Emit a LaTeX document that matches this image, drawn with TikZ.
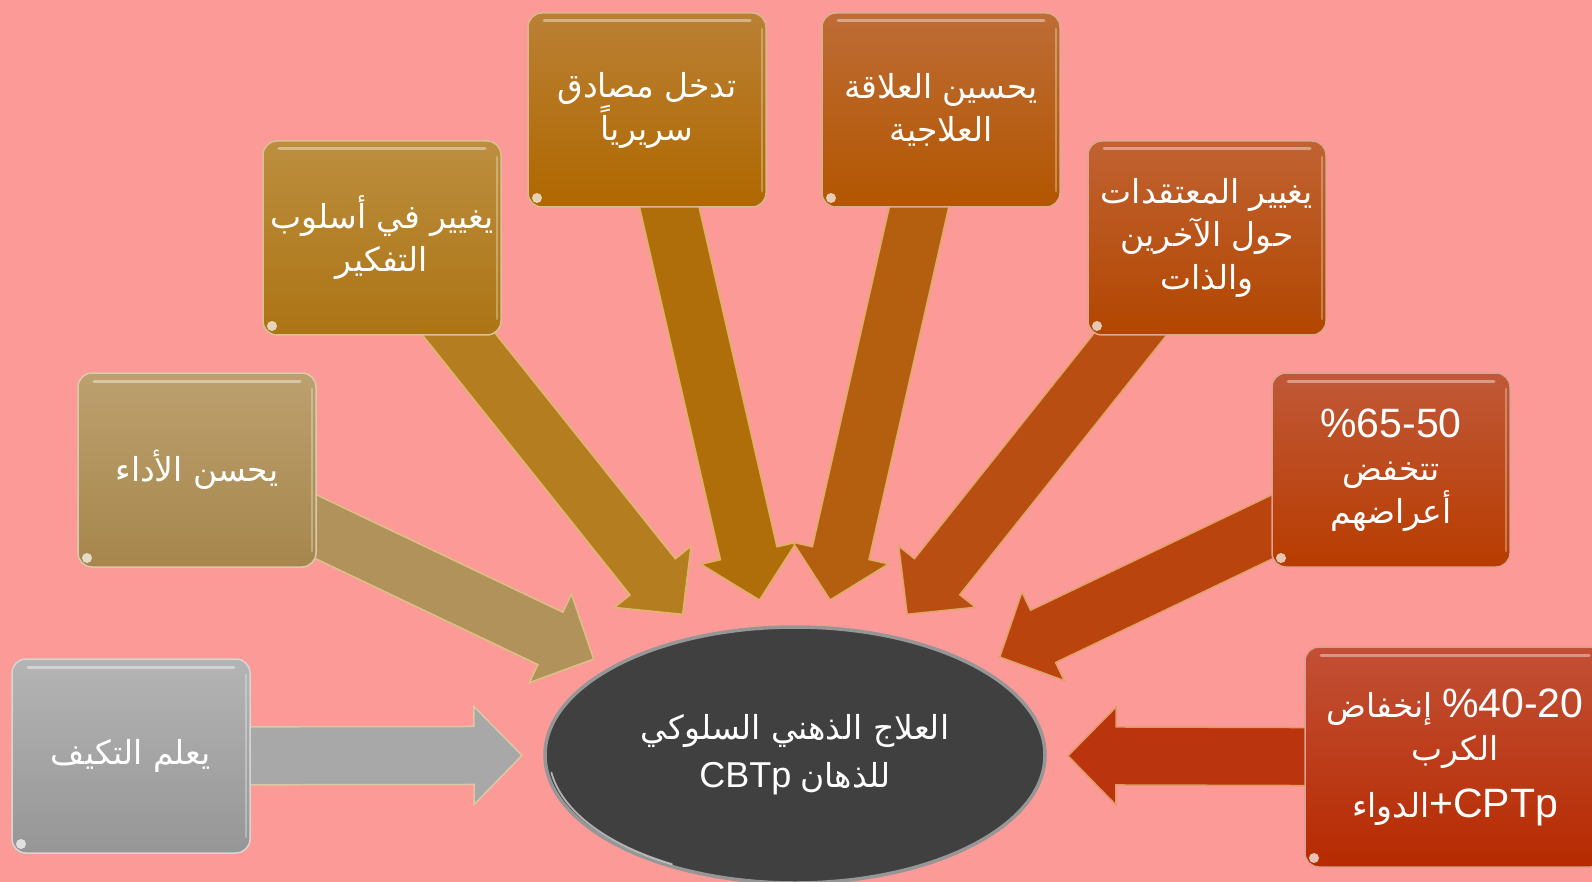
\documentclass[tikz,border=0pt]{standalone}
\usepackage{fontspec}
\setmainfont{Liberation Sans}
\newfontfamily\arfont[Script=Arabic]{DejaVu Sans}
\TeXXeTstate=1
\usetikzlibrary{calc,shapes.geometric}

\definecolor{bgpink}{RGB}{252,154,151}
\definecolor{g1t}{RGB}{180,180,180}\definecolor{g1b}{RGB}{150,150,150}\definecolor{g1a}{RGB}{168,168,168}
\definecolor{g2t}{RGB}{188,160,110}\definecolor{g2b}{RGB}{166,134,76}\definecolor{g2a}{RGB}{176,146,90}
\definecolor{g3t}{RGB}{188,142,62}\definecolor{g3b}{RGB}{172,116,20}\definecolor{g3a}{RGB}{180,126,32}
\definecolor{g4t}{RGB}{186,128,52}\definecolor{g4b}{RGB}{175,104,0}\definecolor{g4a}{RGB}{176,110,10}
\definecolor{g5t}{RGB}{190,108,54}\definecolor{g5b}{RGB}{178,86,0}\definecolor{g5a}{RGB}{180,94,16}
\definecolor{g6t}{RGB}{192,98,50}\definecolor{g6b}{RGB}{178,70,0}\definecolor{g6a}{RGB}{184,78,18}
\definecolor{g7t}{RGB}{192,88,56}\definecolor{g7b}{RGB}{184,60,0}\definecolor{g7a}{RGB}{186,68,14}
\definecolor{g8t}{RGB}{194,80,54}\definecolor{g8b}{RGB}{182,42,0}\definecolor{g8a}{RGB}{186,52,14}
\definecolor{core}{RGB}{64,64,64}
\definecolor{corerim}{RGB}{150,150,150}
\definecolor{glint}{RGB}{250,225,160}

\pgfdeclarelayer{backdrop}
\pgfdeclarelayer{arrowlayer}
\pgfsetlayers{backdrop,arrowlayer,main}

% block arrow from a box centre to a tip coordinate
\newcommand\flowarrow[3]{%
  \coordinate (fa-b) at ($(#2)!48pt!(#1.center)$);
  \filldraw[fill=#3, draw=#3!40!glint, line width=1.5pt, line join=miter]
    ($(#1.center)!29pt!90:(#2)$) -- ($(fa-b)!29pt!90:(#2)$) -- ($(fa-b)!49pt!90:(#2)$) -- (#2)
    -- ($(fa-b)!49pt!-90:(#2)$) -- ($(fa-b)!29pt!-90:(#2)$) -- ($(#1.center)!29pt!-90:(#2)$) -- cycle;}

\begin{document}
\begin{tikzpicture}[x=1pt,y=-1pt,
  card/.style={rounded corners=14pt, minimum width=238pt, minimum height=194pt,
    inner sep=0pt, text=white, align=center, line width=1.5pt,
    font=\fontsize{33}{43}\selectfont,
    path picture={
      \draw[white, opacity=.4, line width=3pt, line cap=round]
        ([xshift=16pt,yshift=-8pt]path picture bounding box.north west) --
        ([xshift=-16pt,yshift=-8pt]path picture bounding box.north east);
      \draw[white, opacity=.3, line width=2.5pt, line cap=round]
        ([xshift=-4pt,yshift=-16pt]path picture bounding box.north east) --
        ([xshift=-4pt,yshift=16pt]path picture bounding box.south east);
      \fill[white, opacity=.7]
        ([xshift=9pt,yshift=9pt]path picture bounding box.south west) circle (5pt);}},
]
\useasboundingbox (0,0) rectangle (1592,882);
\begin{pgfonlayer}{backdrop}
  \fill[bgpink] (0,0) rectangle (1592,882);
\end{pgfonlayer}

% the therapy in the middle
\node[ellipse, minimum width=500pt, minimum height=256pt, inner sep=0pt,
      fill=core, draw=corerim, line width=3.5pt, text=white, align=center,
      font=\fontsize{33}{48}\selectfont] (ell) at (795,755)
  {\arfont\beginR العلاج الذهني السلوكي\endR\\ {\fontsize{36}{48}\selectfont CBTp} {\arfont\beginR للذهان\endR}};
\draw[white, opacity=.6, line width=1.8pt, line cap=round]
  ($(ell.center)+(120:246 and 126)$) arc[start angle=120, end angle=172, x radius=246, y radius=126];

% the eight effects
\node[card, top color=g1t, bottom color=g1b, draw=g1t!55!white] (b1) at (131,756)
  {\arfont\beginR يعلم التكيف\endR};
\node[card, top color=g2t, bottom color=g2b, draw=g2t!55!white] (b2) at (197,470)
  {\arfont\beginR يحسن الأداء\endR};
\node[card, top color=g3t, bottom color=g3b, draw=g3t!55!white] (b3) at (382,238)
  {\arfont\beginR يغيير في أسلوب\endR\\ \arfont\beginR التفكير\endR};
\node[card, top color=g4t, bottom color=g4b, draw=g4t!55!white] (b4) at (647,110)
  {\arfont\beginR تدخل مصادق\endR\\ \arfont\beginR سريرياً\endR};
\node[card, top color=g5t, bottom color=g5b, draw=g5t!55!white] (b5) at (941,110)
  {\arfont\beginR يحسين العلاقة\endR\\ \arfont\beginR العلاجية\endR};
\node[card, top color=g6t, bottom color=g6b, draw=g6t!55!white] (b6) at (1207,238)
  {\arfont\beginR يغيير المعتقدات\endR\\ \arfont\beginR حول الآخرين\endR\\ \arfont\beginR والذات\endR};
\node[card, top color=g7t, bottom color=g7b, draw=g7t!55!white] (b7) at (1391,470)
  {{\fontsize{41}{43}\selectfont \%65-50}\\ \arfont\beginR تتخفض\endR\\ \arfont\beginR أعراضهم\endR};
\node[card, top color=g8t, bottom color=g8b, draw=g8t!55!white,
      minimum width=300pt, minimum height=220pt] (b8) at (1455,757)
  {{\arfont\beginR إنخفاض\endR} {\fontsize{41}{43}\selectfont \%40-20}\\
   \arfont\beginR الكرب\endR\\[14pt]
   {\arfont\beginR الدواء\endR}{\fontsize{41}{43}\selectfont +CPTp}};

% arrow tips, spaced around the ellipse
\coordinate (h1) at ($(ell.center)!273pt!(b1.center)$);
\coordinate (h2) at ($(ell.center)!223pt!(b2.center)$);
\coordinate (h3) at ($(ell.center)!180pt!(b3.center)$);
\coordinate (h4) at ($(ell.center)!159pt!(b4.center)$);
\coordinate (h5) at ($(ell.center)!159pt!(b5.center)$);
\coordinate (h6) at ($(ell.center)!180pt!(b6.center)$);
\coordinate (h7) at ($(ell.center)!227pt!(b7.center)$);
\coordinate (h8) at ($(ell.center)!273pt!(b8.center)$);

\begin{pgfonlayer}{arrowlayer}
  \flowarrow{b1}{h1}{g1a}
  \flowarrow{b2}{h2}{g2a}
  \flowarrow{b3}{h3}{g3a}
  \flowarrow{b4}{h4}{g4a}
  \flowarrow{b5}{h5}{g5a}
  \flowarrow{b6}{h6}{g6a}
  \flowarrow{b7}{h7}{g7a}
  \flowarrow{b8}{h8}{g8a}
\end{pgfonlayer}
\end{tikzpicture}
\end{document}
